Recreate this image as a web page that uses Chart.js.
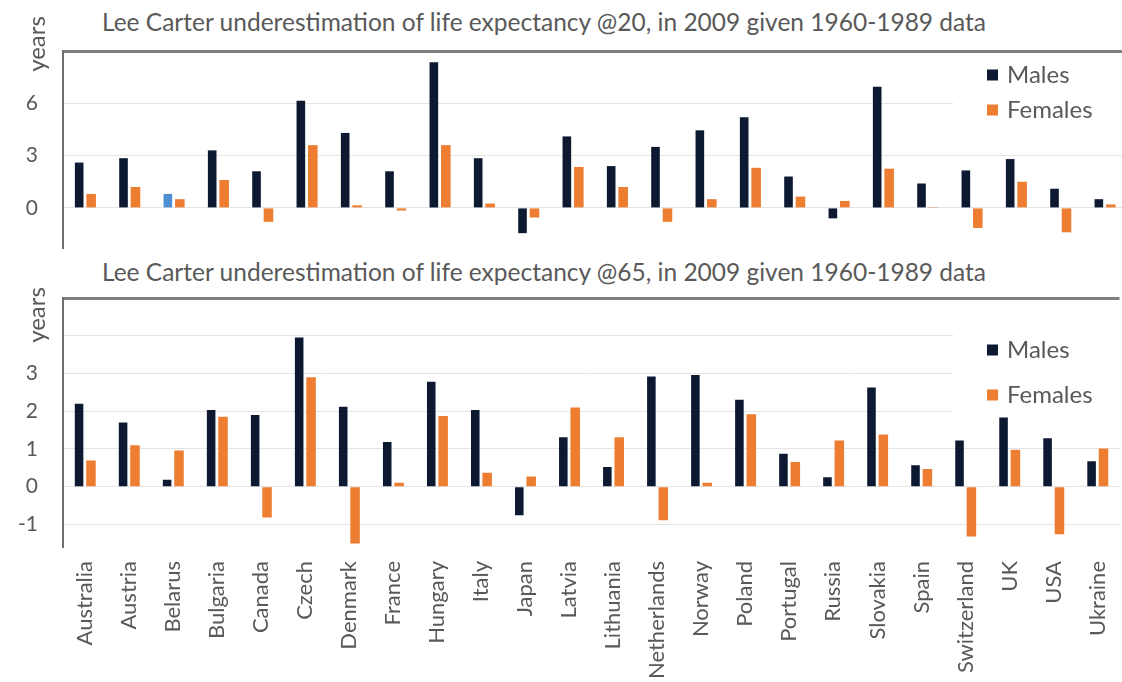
<!DOCTYPE html>
<html lang="en">
<head>
<meta charset="UTF-8">
<title>Lee Carter underestimation of life expectancy</title>
<style>
    body {
        margin: 0;
        background: #fff;
        font-family: Lato, "Open Sans", sans-serif;
        overflow: hidden;
    }
    #page {
        position: relative;
        width: 1122px;
        height: 682px;
        overflow: hidden;
    }
    .title {
        position: absolute;
        left: 102px;
        font-size: 24.5px;
        color: #595959;
        white-space: nowrap;
    }
    .ylab {
        position: absolute;
        width: 70px;
        height: 28px;
        line-height: 28px;
        text-align: center;
        font-size: 24px;
        color: #595959;
        transform: rotate(-90deg);
    }
    canvas {
        position: absolute;
        left: 0;
    }
</style>
</head>
<body>
<div id="page">
    <div class="title" style="top:7px">Lee Carter underestimation of life expectancy @20, in 2009 given 1960-1989 data</div>
    <div class="title" style="top:257px">Lee Carter underestimation of life expectancy @65, in 2009 given 1960-1989 data</div>
    <canvas id="chart20" width="1130" height="250" style="top:0"></canvas>
    <canvas id="chart65" width="1130" height="427" style="top:255px"></canvas>
    <div class="ylab" style="left:1px;top:30px">years</div>
    <div class="ylab" style="left:1px;top:301px">years</div>
</div>

<script src="https://cdn.jsdelivr.net/npm/chart.js"></script>
<script>
    // Data
    const countries = ['Australia', 'Austria', 'Belarus', 'Bulgaria', 'Canada', 'Czech', 'Denmark', 'France',
        'Hungary', 'Italy', 'Japan', 'Latvia', 'Lithuania', 'Netherlands', 'Norway', 'Poland', 'Portugal',
        'Russia', 'Slovakia', 'Spain', 'Switzerland', 'UK', 'USA', 'Ukraine'];

    const males20 = [2.6, 2.85, 0.8, 3.3, 2.1, 6.15, 4.3, 2.1, 8.35, 2.85, -1.45, 4.1, 2.4, 3.5, 4.45, 5.2,
        1.8, -0.6, 6.95, 1.4, 2.15, 2.8, 1.1, 0.5];
    const females20 = [0.8, 1.2, 0.5, 1.6, -0.8, 3.6, 0.15, -0.15, 3.6, 0.25, -0.55, 2.35, 1.2, -0.8, 0.5, 2.3,
        0.65, 0.4, 2.25, 0.05, -1.15, 1.5, -1.4, 0.2];

    const males65 = [2.2, 1.7, 0.18, 2.03, 1.9, 3.95, 2.12, 1.18, 2.78, 2.03, -0.76, 1.31, 0.52, 2.92, 2.96, 2.3,
        0.87, 0.25, 2.63, 0.57, 1.22, 1.83, 1.28, 0.67];
    const females65 = [0.69, 1.1, 0.96, 1.85, -0.82, 2.9, -1.51, 0.1, 1.87, 0.37, 0.27, 2.1, 1.31, -0.89, 0.1, 1.92,
        0.65, 1.22, 1.38, 0.47, -1.32, 0.98, -1.26, 1.01];

    const ticks20 = [0, 3, 6, 9];
    const tickLabels20 = [0, 3, 6];
    const ticks65 = [-1, 0, 1, 2, 3, 4, 5];
    const tickLabels65 = [-1, 0, 1, 2, 3];

    const NAVY = '#0c1931';
    const BLUE = '#4f8fd2';
    const ORANGE = '#ed7d31';
    const GREY_TEXT = '#595959';
    const belarusIdx = countries.indexOf('Belarus');

    // legend inside the plot on a white box (under the bars, over the grid)
    const boxLegend = {
        id: 'boxLegend',
        beforeDatasetsDraw(chart, args, opts) {
            const ctx = chart.ctx;
            ctx.save();
            ctx.fillStyle = '#fff';
            ctx.fillRect(opts.x, opts.top, 200, opts.bottom - opts.top);
            ctx.font = '24px Lato, sans-serif';
            ctx.textBaseline = 'middle';
            chart.data.datasets.forEach((ds, i) => {
                const y = opts.rows[i];
                ctx.fillStyle = ds.legendColor;
                ctx.fillRect(opts.x + 34, y - 5.5, 11, 11);
                ctx.fillStyle = GREY_TEXT;
                ctx.fillText(ds.label, opts.x + 54, y);
            });
            ctx.restore();
        }
    };

    function yScale(min, max, tickValues, shown) {
        return {
            min: min,
            max: max,
            afterBuildTicks: (scale) => {
                scale.ticks = tickValues.map(v => ({ value: v }));
            },
            afterFit: (scale) => {
                scale.width = 63;
                // no extra room for the end labels, the layout padding handles it
                scale.paddingTop = 0;
                scale.paddingBottom = 0;
            },
            ticks: {
                color: GREY_TEXT,
                font: { family: 'Lato', size: 21 },
                padding: 25,
                callback: (v) => shown.includes(v) ? String(v) : ''
            },
            grid: {
                drawTicks: false,
                color: (c) => c.tick && c.tick.value === max ? '#808080' : '#e4e4e4',
                lineWidth: (c) => c.tick && c.tick.value === max ? 3 : 1
            },
            border: { display: true, color: '#6f6f6f', width: 2 }
        };
    }

    function makeChart(id, males, females, cfg) {
        new Chart(document.getElementById(id), {
            type: 'bar',
            data: {
                labels: countries,
                datasets: [
                    {
                        label: 'Males',
                        data: males,
                        legendColor: NAVY,
                        backgroundColor: (c) => cfg.blueBelarus && c.dataIndex === belarusIdx ? BLUE : NAVY,
                        barPercentage: 0.72,
                        categoryPercentage: 0.54
                    },
                    {
                        label: 'Females',
                        data: females,
                        legendColor: ORANGE,
                        backgroundColor: ORANGE,
                        barPercentage: 0.8,
                        categoryPercentage: 0.54
                    }
                ]
            },
            options: {
                responsive: false,
                animation: false,
                layout: { padding: cfg.padding },
                plugins: {
                    legend: { display: false },
                    tooltip: { enabled: false },
                    boxLegend: cfg.legend
                },
                scales: {
                    x: cfg.showX ? {
                        afterFit: (scale) => { scale.height = 135; },
                        grid: { display: false },
                        border: { display: false },
                        ticks: {
                            color: GREY_TEXT,
                            font: { family: 'Lato', size: 22 },
                            autoSkip: false,
                            maxRotation: 90,
                            minRotation: 90,
                            padding: 6
                        }
                    } : { display: false },
                    y: yScale(cfg.min, cfg.max, cfg.ticks, cfg.labels)
                }
            },
            plugins: [boxLegend]
        });
    }

    makeChart('chart20', males20, females20, {
        min: -2.3, max: 9, ticks: ticks20, labels: tickLabels20,
        padding: { top: 51, right: 3, bottom: 2, left: 0 },
        showX: false, blueBelarus: true,
        legend: { x: 953, top: 55, bottom: 130, rows: [75, 110] }
    });

    makeChart('chart65', males65, females65, {
        min: -1.6, max: 5, ticks: ticks65, labels: tickLabels65,
        padding: { top: 43, right: 3, bottom: 0, left: 0 },
        showX: true, blueBelarus: false,
        legend: { x: 953, top: 65, bottom: 175, rows: [95, 140] }
    });
</script>
</body>
</html>
